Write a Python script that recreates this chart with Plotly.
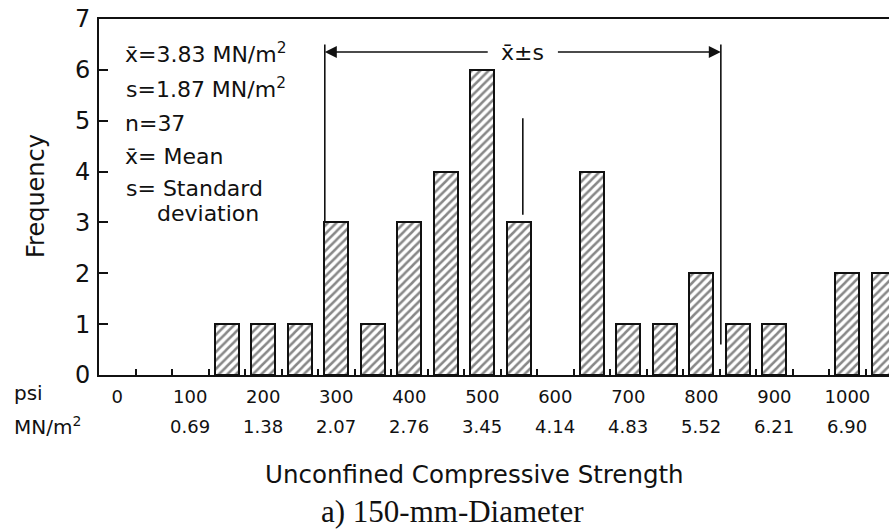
import plotly.graph_objects as go

# Histogram of unconfined compressive strength, 150-mm-diameter cores
bin_centers_psi = [150, 200, 250, 300, 350, 400, 450, 500, 550, 600,
                   650, 700, 750, 800, 850, 900, 950, 1000, 1050]
frequency = [1, 1, 1, 3, 1, 3, 4, 6, 3, 0, 4, 1, 1, 2, 1, 1, 0, 2, 2]

psi_ticks = [0, 100, 200, 300, 400, 500, 600, 700, 800, 900, 1000]
psi_labels = ["0", "100", "200", "300", "400", "500", "600", "700", "800", "900", "1000"]
mn_ticks = [100, 200, 300, 400, 500, 600, 700, 800, 900, 1000]
mn_labels = ["0.69", "1.38", "2.07", "2.76", "3.45", "4.14", "4.83", "5.52", "6.21", "6.90"]

mean_mn = 3.83
sd_mn = 1.87
n_obs = 37
PSI_PER_MN = 1 / 0.006895

mean_psi = mean_mn * PSI_PER_MN
lo_psi = (mean_mn - sd_mn) * PSI_PER_MN
hi_psi = (mean_mn + sd_mn) * PSI_PER_MN

W, H = 889, 529
ML, MR, MT, MB = 99, 0, 19, 154
PW, PH = W - ML - MR, H - MT - MB


def px_x(px):
    return (px - ML) / PW


def px_y(py):
    return (H - MB - py) / PH


FONT = "'DejaVu Sans', sans-serif"
SERIF = "'Liberation Serif', 'Times New Roman', serif"
INK = "#111111"

# empty bins get no outline so nothing is drawn for them
outline_widths = [2 if f > 0 else 0 for f in frequency]

fig = go.Figure()
fig.add_trace(go.Bar(
    x=bin_centers_psi,
    y=frequency,
    width=33,
    marker=dict(
        color="white",
        line=dict(color=INK, width=outline_widths),
        pattern=dict(shape="/", fgcolor=INK, bgcolor="white", size=6, solidity=0.42),
    ),
    hoverinfo="x+y",
))

# mean +/- one standard deviation markers
line_style = dict(color=INK, width=1.6)
fig.add_shape(type="line", x0=lo_psi, x1=lo_psi, y0=3.0, y1=6.5, line=line_style)
fig.add_shape(type="line", x0=hi_psi, x1=hi_psi, y0=0.6, y1=6.5, line=line_style)
fig.add_shape(type="line", x0=mean_psi, x1=mean_psi, y0=3.15, y1=5.05, line=line_style)

arrow_y = 6.35
gap = 46
for tip, tail in [(lo_psi, mean_psi - gap), (hi_psi, mean_psi + gap)]:
    fig.add_annotation(x=tip, y=arrow_y, ax=tail, ay=arrow_y, xref="x", yref="y",
                       axref="x", ayref="y", text="", showarrow=True,
                       arrowhead=2, arrowsize=1.6, arrowwidth=1.5, arrowcolor=INK)
fig.add_annotation(x=mean_psi, y=arrow_y, xref="x", yref="y", text="x̄±s",
                   showarrow=False, font=dict(family=FONT, size=22, color=INK))

# summary statistics block
stats_lines = [
    ("x̄=3.83 MN/m<sup>2</sup>", 123, 53),
    ("s=1.87 MN/m<sup>2</sup>", 124, 88),
    (f"n={n_obs}", 123, 123),
    ("x̄= Mean", 123, 157),
    ("s= Standard", 124, 188),
    ("deviation", 155, 213),
]
for txt, lx, ly in stats_lines:
    fig.add_annotation(x=px_x(lx), y=px_y(ly), xref="paper", yref="paper",
                       text=txt, showarrow=False, xanchor="left", yanchor="middle",
                       font=dict(family=FONT, size=22, color=INK))

# second row of x labels in MN/m^2
for v, lab in zip(mn_ticks, mn_labels):
    fig.add_annotation(x=v, y=px_y(427), xref="x", yref="paper", text=lab,
                       showarrow=False, yanchor="middle",
                       font=dict(family=FONT, size=18, color=INK))

fig.add_annotation(x=px_x(12), y=px_y(393), xref="paper", yref="paper", text="psi",
                   showarrow=False, xanchor="left", yanchor="middle",
                   font=dict(family=FONT, size=20, color=INK))
fig.add_annotation(x=px_x(12), y=px_y(426), xref="paper", yref="paper",
                   text="MN/m<sup>2</sup>", showarrow=False, xanchor="left",
                   yanchor="middle", font=dict(family=FONT, size=20, color=INK))

fig.add_annotation(x=px_x(36), y=px_y(196), xref="paper", yref="paper",
                   text="Frequency", textangle=-90, showarrow=False,
                   xanchor="center", yanchor="middle",
                   font=dict(family=FONT, size=24, color=INK))

fig.add_annotation(x=px_x(474), y=px_y(474), xref="paper", yref="paper",
                   text="Unconfined Compressive Strength", showarrow=False,
                   yanchor="middle", font=dict(family=FONT, size=24.5, color=INK))
fig.add_annotation(x=px_x(452), y=px_y(512), xref="paper", yref="paper",
                   text="a) 150-mm-Diameter", showarrow=False, yanchor="middle",
                   font=dict(family=SERIF, size=31, color=INK))

fig.update_layout(
    width=W, height=H,
    margin=dict(l=ML, r=MR, t=MT, b=MB),
    plot_bgcolor="white", paper_bgcolor="white",
    showlegend=False,
    bargap=0,
)
fig.update_xaxes(
    range=[-25, 1057], showgrid=False, zeroline=False,
    showline=True, linecolor=INK, linewidth=2, mirror=True,
    tickvals=psi_ticks, ticktext=psi_labels, ticks="",
    ticklabelstandoff=4,
    tickfont=dict(family=FONT, size=18, color=INK),
    minor=dict(tickvals=[25 + 50 * k for k in range(21)], ticks="inside",
               ticklen=6, tickwidth=1.5, tickcolor=INK),
)
fig.update_yaxes(
    range=[0, 7], showgrid=False, zeroline=False,
    showline=True, linecolor=INK, linewidth=2,
    tickvals=list(range(8)), ticks="inside", ticklen=9, tickwidth=1.5,
    tickcolor=INK, tickfont=dict(family=FONT, size=24, color=INK),
    ticklabelstandoff=2,
)

fig.write_html("out.html")
